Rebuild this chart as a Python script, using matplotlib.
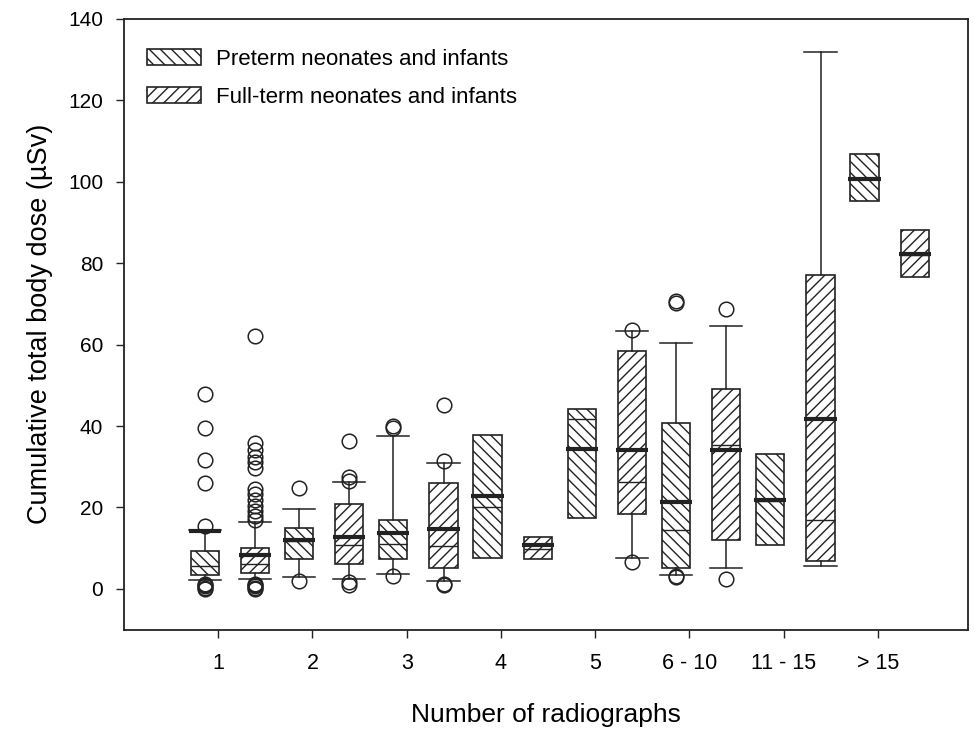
import numpy as np
import matplotlib
matplotlib.use("Agg")
import matplotlib.pyplot as plt
from matplotlib.patches import Patch

plt.rcParams['font.family'] = ['Liberation Sans', 'DejaVu Sans']
plt.rcParams['hatch.color'] = '#222222'
plt.rcParams['hatch.linewidth'] = 1.0

categories = ['1', '2', '3', '4', '5', '6 - 10', '11 - 15', '> 15']

# preterm neonates and infants
pre_q1 = [3.3, 7.3, 7.4, 7.6, 17.3, 5.0, 10.8, 95.2]
pre_med = [5.6, 11.8, 11.0, 20.0, 41.6, 14.5, 21.5, 100.7]
pre_q3 = [9.2, 15.0, 17.0, 37.9, 44.2, 40.7, 33.2, 106.8]
pre_mean = [14.2, 12.0, 13.7, 22.7, 34.4, 21.4, 21.7, 100.8]
pre_wlo = [2.1, 3.0, 3.6, None, None, 3.3, None, None]
pre_whi = [14.5, 19.5, 37.6, None, None, 60.5, None, None]
pre_out = [
    [47.9, 39.4, 31.6, 25.9, 15.4, 1.2, 0.9, 0.6, 0.3, 0.0],
    [24.7, 2.0],
    [40.0, 39.6, 3.1],
    [],
    [],
    [70.6, 70.2, 3.2, 2.8],
    [],
    [],
]

# full-term neonates and infants
full_q1 = [3.9, 6.0, 5.1, 7.2, 18.5, 12.0, 6.8, 76.6]
full_med = [6.0, 10.8, 10.4, 9.8, 26.3, 35.3, 16.9, 82.0]
full_q3 = [10.1, 20.8, 25.9, 12.8, 58.5, 49.2, 77.2, 88.2]
full_mean = [8.2, 12.7, 14.8, 10.8, 34.2, 34.2, 41.8, 82.2]
full_wlo = [2.4, 2.3, 1.8, None, 7.5, 5.0, 5.5, None]
full_whi = [16.5, 26.2, 30.8, None, 63.4, 64.6, 132.0, None]
full_out = [
    [62.0, 35.8, 34.0, 32.5, 31.2, 29.8, 24.6, 23.4, 21.8, 20.4, 19.2, 18.0,
     17.0, 1.2, 0.9, 0.6, 0.3, 0.0],
    [36.3, 27.4, 26.6, 1.6, 0.9],
    [45.2, 31.4, 1.3, 1.0],
    [],
    [63.5, 6.7],
    [68.8, 2.4],
    [],
    [],
]

ink = '#222222'


def make_stats(q1, med, q3, wlo, whi, out):
    stats = []
    for i in range(len(q1)):
        lo = np.nan if wlo[i] is None else wlo[i]
        hi = np.nan if whi[i] is None else whi[i]
        stats.append({'q1': q1[i], 'med': med[i], 'q3': q3[i],
                      'whislo': lo, 'whishi': hi, 'fliers': np.array(out[i])})
    return stats


fig = plt.figure(figsize=(9.74, 7.29), dpi=100)
ax = fig.add_axes([124 / 974, 1 - 629.5 / 729, 844 / 974, 610.5 / 729])

x = np.arange(1, len(categories) + 1)
pre_pos = x - 0.143
full_pos = x + 0.39
box_w = 0.30
cap_w = 0.34

common = dict(widths=box_w, capwidths=cap_w, patch_artist=True,
              whiskerprops=dict(color=ink, lw=1.1),
              capprops=dict(color=ink, lw=1.1),
              medianprops=dict(color=ink, lw=1.0),
              flierprops=dict(marker='o', markersize=10.5, markerfacecolor='none',
                              markeredgecolor=ink, markeredgewidth=1.1))

ax.bxp(make_stats(pre_q1, pre_med, pre_q3, pre_wlo, pre_whi, pre_out),
       positions=pre_pos,
       boxprops=dict(facecolor='white', edgecolor=ink, lw=1.2, hatch='\\\\\\'),
       **common)
ax.bxp(make_stats(full_q1, full_med, full_q3, full_wlo, full_whi, full_out),
       positions=full_pos,
       boxprops=dict(facecolor='white', edgecolor=ink, lw=1.2, hatch='///'),
       **common)

# thick mean lines
ax.hlines(pre_mean, pre_pos - cap_w / 2, pre_pos + cap_w / 2, color=ink, lw=3, zorder=5)
ax.hlines(full_mean, full_pos - cap_w / 2, full_pos + cap_w / 2, color=ink, lw=3, zorder=5)

ax.set_xlim(0, 8.955)
ax.set_ylim(-10, 140)
ax.set_xticks(x)
ax.set_xticklabels(categories, fontsize=15.5)
ax.set_yticks(np.arange(0, 141, 20))
ax.tick_params(axis='y', labelsize=15, length=6, width=1.0, pad=9, color=ink)
ax.tick_params(axis='x', length=6, width=1.0, pad=11, color=ink)
for s in ax.spines.values():
    s.set_linewidth(1.3)
    s.set_color(ink)

ax.set_xlabel('Number of radiographs', fontsize=19)
ax.set_ylabel('Cumulative total body dose (µSv)', fontsize=19.5)
ax.xaxis.set_label_coords(0.5, -0.14)
ax.xaxis.label.set_va('center')
ax.yaxis.set_label_coords(-0.1, 0.5)
ax.yaxis.label.set_va('center')

handles = [Patch(facecolor='white', edgecolor=ink, lw=1.2, hatch='\\\\\\'),
           Patch(facecolor='white', edgecolor=ink, lw=1.2, hatch='///')]
ax.legend(handles, ['Preterm neonates and infants', 'Full-term neonates and infants'],
          loc='upper left', bbox_to_anchor=(0.027, 0.951), frameon=False,
          fontsize=16, handlelength=2.45, handleheight=0.75, handletextpad=0.65,
          labelspacing=0.75, borderpad=0, borderaxespad=0)

fig.savefig('out.png', dpi=100)
